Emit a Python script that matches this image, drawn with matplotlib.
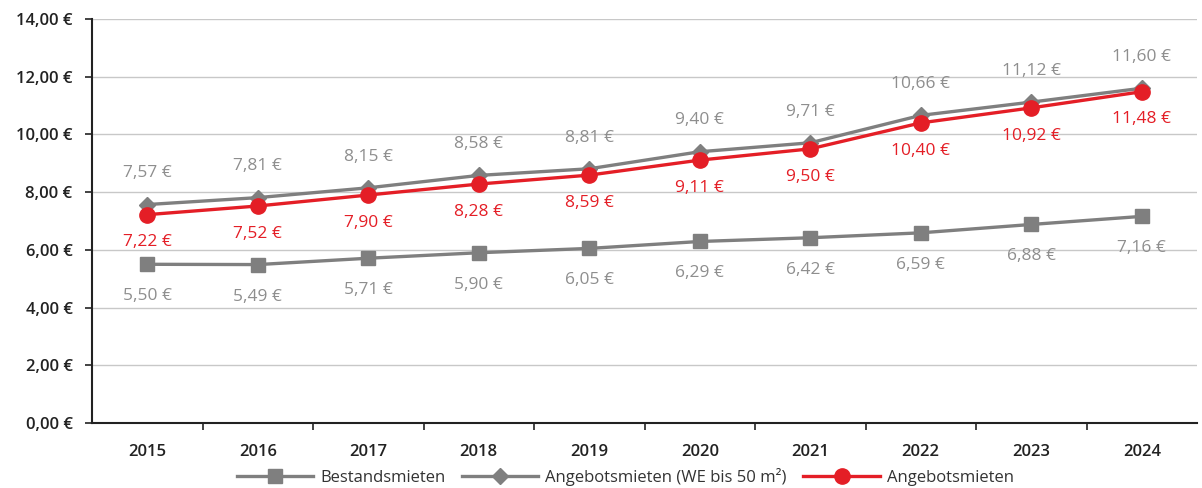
import matplotlib
matplotlib.use("Agg")
import matplotlib.pyplot as plt
from matplotlib.ticker import FuncFormatter, MultipleLocator

years = ["2015", "2016", "2017", "2018", "2019", "2020", "2021", "2022", "2023", "2024"]
bestand = [5.50, 5.49, 5.71, 5.90, 6.05, 6.29, 6.42, 6.59, 6.88, 7.16]
angebot50 = [7.57, 7.81, 8.15, 8.58, 8.81, 9.40, 9.71, 10.66, 11.12, 11.60]
angebot = [7.22, 7.52, 7.90, 8.28, 8.59, 9.11, 9.50, 10.40, 10.92, 11.48]
series_names = ["Bestandsmieten", "Angebotsmieten (WE bis 50 m²)", "Angebotsmieten"]

plt.rcParams['font.family'] = ['Open Sans', 'DejaVu Sans']

GRAY = "#7f7f7f"
LGRAY = "#8e8e8e"
RED = "#e41e26"

fig = plt.figure(figsize=(12.02, 4.88), dpi=100)
ax = fig.add_axes([92/1202, (488-423)/488, (1197-92)/1202, (423-19)/488])

x = list(range(len(years)))
ax.plot(x, bestand, color=GRAY, lw=2.4, marker="s", ms=10, mec=GRAY, mfc=GRAY, label=series_names[0], zorder=3)
ax.plot(x, angebot50, color=GRAY, lw=2.4, marker="D", ms=8, mec=GRAY, mfc=GRAY, label=series_names[1], zorder=3)
ax.plot(x, angebot, color=RED, lw=2.4, marker="o", ms=11, mec=RED, mfc=RED, label=series_names[2], zorder=4)

def fmt(v):
    return f"{v:.2f}".replace(".", ",") + " €"

for i in x:
    ax.annotate(fmt(angebot50[i]), (i, angebot50[i]), xytext=(0, 22.5), textcoords="offset points",
                ha="center", va="center", color=LGRAY, fontsize=12.5)
    ax.annotate(fmt(angebot[i]), (i, angebot[i]), xytext=(0, -20), textcoords="offset points",
                ha="center", va="center", color=RED, fontsize=12.5)
    ax.annotate(fmt(bestand[i]), (i, bestand[i]), xytext=(0, -23), textcoords="offset points",
                ha="center", va="center", color=LGRAY, fontsize=12.5)

ax.set_xlim(-0.5, len(years) - 0.5)
ax.set_ylim(0, 14)
ax.yaxis.set_major_locator(MultipleLocator(2))
ax.yaxis.set_major_formatter(FuncFormatter(lambda v, p: fmt(v)))
ax.set_xticks(x)
ax.set_xticklabels(years)
ax.set_xticks([i + 0.5 for i in x[:-1]], minor=True)
ax.tick_params(axis="x", which="major", length=0, pad=15, labelsize=12, labelcolor="#222222")
ax.tick_params(axis="x", which="minor", length=5, width=1.2, color="#222222")
ax.tick_params(axis="y", which="major", length=5, width=1.2, color="#222222", labelsize=12,
               labelcolor="#222222", pad=9)
for lbl in ax.get_xticklabels() + ax.get_yticklabels():
    lbl.set_fontweight("semibold")

ax.grid(axis="y", color="#c8c8c8", lw=1)
ax.set_axisbelow(True)
for s in ["top", "right"]:
    ax.spines[s].set_visible(False)
for s in ["left", "bottom"]:
    ax.spines[s].set_color("#222222")
    ax.spines[s].set_linewidth(1.5)

leg = fig.legend(loc="center", bbox_to_anchor=(0.52, 11/488), ncol=3, frameon=False,
                 fontsize=12, handlelength=4.6, columnspacing=1.0, handletextpad=0.4)
for t in leg.get_texts():
    t.set_color("#333333")

fig.savefig("out.png", dpi=100, facecolor="white")
